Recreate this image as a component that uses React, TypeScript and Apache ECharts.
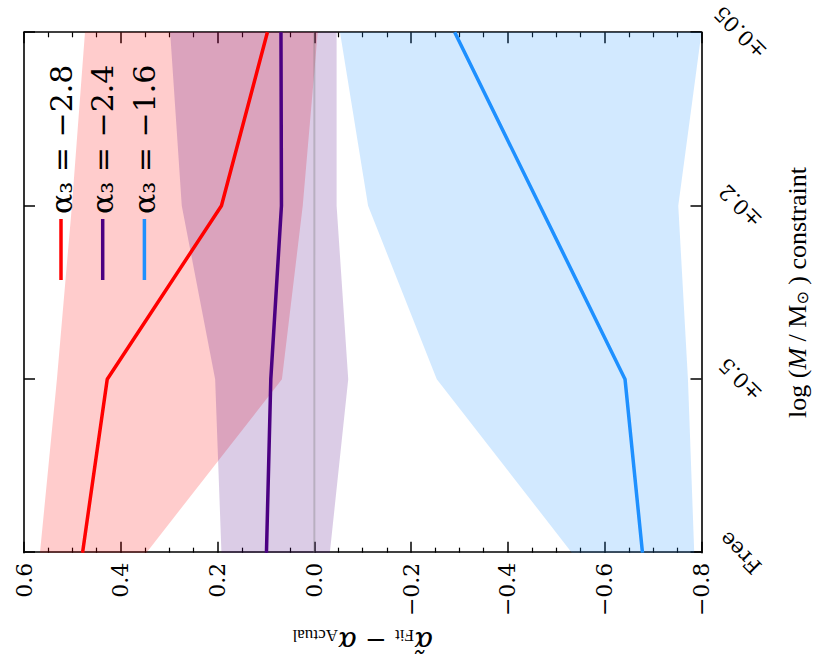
import React, { useEffect, useRef } from "react";
import * as echarts from "echarts";

const categories = ["Free", "±0.5", "±0.2", "±0.05"];
const valueTicks = { min: -0.8, max: 0.6, interval: 0.2 };

const redLine = [0.479, 0.428, 0.192, 0.097];
const redLow = [0.347, 0.067, 0.024, -0.007];
const redHigh = [0.567, 0.532, 0.501, 0.474];

const purpleLine = [0.099, 0.09, 0.068, 0.069];
const purpleLow = [-0.032, -0.07, -0.046, -0.046];
const purpleHigh = [0.192, 0.205, 0.274, 0.298];

const blueLine = [-0.678, -0.642, -0.466, -0.29];
const blueLow = [-0.785, -0.772, -0.752, -0.8];
const blueHigh = [-0.532, -0.253, -0.111, -0.053];

const zeroLine = [0, 0, 0, 0];

const names = ["α₃ = −2.8", "α₃ = −2.4", "α₃ = −1.6"];
const colors = ["#ff0000", "#4b0082", "#1e90ff"];

const diff = (hi: number[], lo: number[]) => hi.map((v, i) => +(v - lo[i]).toFixed(4));

function band(id: string, lo: number[], hi: number[], color: string) {
  return [
    {
      type: "line",
      name: id + "-lo",
      stack: id,
      stackStrategy: "all",
      data: lo,
      symbol: "none",
      silent: true,
      lineStyle: { opacity: 0, width: 0 },
      z: 1,
    },
    {
      type: "line",
      name: id + "-band",
      stack: id,
      stackStrategy: "all",
      data: diff(hi, lo),
      symbol: "none",
      silent: true,
      lineStyle: { opacity: 0, width: 0 },
      areaStyle: { color, opacity: 0.2 },
      z: 1,
    },
  ];
}

function mainLine(name: string, data: number[], color: string) {
  return {
    type: "line",
    name,
    data,
    symbol: "none",
    silent: true,
    color,
    lineStyle: { color, width: 3.5 },
    z: 5,
  };
}

const fmt = (v: number) => {
  const r = Math.round(v * 10) / 10;
  if (Math.abs(r) < 1e-9) return "0.0";
  return (r < 0 ? "−" : "") + Math.abs(r).toFixed(1);
};

const axisLineStyle = { color: "#000", width: 1.6 };

export default function App() {
  const ref = useRef<HTMLDivElement>(null);
  useEffect(() => {
    if (!ref.current) return;
    const chart = echarts.init(ref.current, undefined, { renderer: "svg" });
    chart.setOption({
      animation: false,
      backgroundColor: "#fff",
      grid: { left: 106, right: 30.7, top: 24, bottom: 117.5 },
      legend: {
        data: names,
        orient: "vertical",
        left: 383,
        top: 45,
        padding: 0,
        icon: "rect",
        itemWidth: 61,
        itemHeight: 3.5,
        itemGap: 9.7,
        selectedMode: false,
        textStyle: {
          fontFamily: "DejaVu Serif",
          fontSize: 30,
          lineHeight: 32,
          color: "#000",
        },
      },
      xAxis: [
        {
          type: "category",
          data: categories,
          boundaryGap: false,
          position: "bottom",
          axisLine: { onZero: false, lineStyle: axisLineStyle },
          axisTick: { inside: true, length: 11, lineStyle: { color: "#000", width: 1.5 } },
          axisLabel: {
            rotate: 45,
            align: "center",
            verticalAlign: "middle",
            margin: 39,
            fontFamily: "DejaVu Serif",
            fontSize: 21,
            color: "#000",
          },
          splitLine: { show: false },
          name: "{n|log (}{i|M}{n| / M}{sub|⊙}{n| ) constraint}",
          nameLocation: "middle",
          nameGap: 83,
          nameTextStyle: {
            rich: {
              n: { fontFamily: "Liberation Serif", fontSize: 26, color: "#000" },
              i: { fontFamily: "Liberation Serif", fontSize: 26, fontStyle: "italic", color: "#000" },
              sub: { fontFamily: "DejaVu Sans", fontSize: 16, color: "#000", verticalAlign: "bottom" },
            },
          },
        },
        {
          type: "category",
          data: categories,
          boundaryGap: false,
          position: "top",
          axisLine: { onZero: false, lineStyle: axisLineStyle },
          axisTick: { inside: true, length: 11, lineStyle: { color: "#000", width: 1.5 } },
          axisLabel: { show: false },
          splitLine: { show: false },
        },
      ],
      yAxis: [
        {
          type: "value",
          min: valueTicks.min,
          max: valueTicks.max,
          interval: valueTicks.interval,
          position: "left",
          axisLine: { show: true, onZero: false, lineStyle: axisLineStyle },
          axisTick: { show: true, inside: true, length: 11, lineStyle: { color: "#000", width: 1.5 } },
          minorTick: { show: true, splitNumber: 4, length: 5, lineStyle: { color: "#000", width: 1.2 } },
          splitLine: { show: false },
          axisLabel: {
            formatter: fmt,
            margin: 10,
            fontFamily: "DejaVu Serif",
            fontSize: 22,
            color: "#000",
          },
          name: "{a|α̃}{s|Fit}{m| − }{a|α}{s|Actual}",
          nameLocation: "middle",
          nameRotate: 90,
          nameGap: 72,
          nameTextStyle: {
            rich: {
              a: { fontFamily: "DejaVu Serif", fontSize: 28, fontStyle: "italic", color: "#000" },
              m: { fontFamily: "DejaVu Serif", fontSize: 26, color: "#000" },
              s: { fontFamily: "Liberation Serif", fontSize: 17, color: "#000", verticalAlign: "bottom" },
            },
          },
        },
        {
          type: "value",
          min: valueTicks.min,
          max: valueTicks.max,
          interval: valueTicks.interval,
          position: "right",
          axisLine: { show: true, onZero: false, lineStyle: axisLineStyle },
          axisTick: { show: true, inside: true, length: 11, lineStyle: { color: "#000", width: 1.5 } },
          minorTick: { show: true, splitNumber: 4, length: 5, lineStyle: { color: "#000", width: 1.2 } },
          splitLine: { show: false },
          axisLabel: { show: false },
        },
      ],
      series: [
        ...band("red", redLow, redHigh, colors[0]),
        ...band("purple", purpleLow, purpleHigh, colors[1]),
        ...band("blue", blueLow, blueHigh, colors[2]),
        {
          type: "line",
          name: "zero",
          data: zeroLine,
          symbol: "none",
          silent: true,
          lineStyle: { color: "rgba(120,120,120,0.35)", width: 2 },
          z: 2,
        },
        mainLine(names[0], redLine, colors[0]),
        mainLine(names[1], purpleLine, colors[1]),
        mainLine(names[2], blueLine, colors[2]),
      ],
    });
    return () => chart.dispose();
  }, []);

  return (
    <div
      style={{
        position: "fixed",
        left: 0,
        top: 0,
        width: 819,
        height: 663,
        overflow: "hidden",
        background: "#fff",
      }}
    >
      <div
        ref={ref}
        style={{
          position: "absolute",
          left: 0,
          top: 0,
          width: 663,
          height: 819,
          transformOrigin: "0 0",
          transform: "translate(0px, 663px) rotate(-90deg)",
        }}
      />
    </div>
  );
}
